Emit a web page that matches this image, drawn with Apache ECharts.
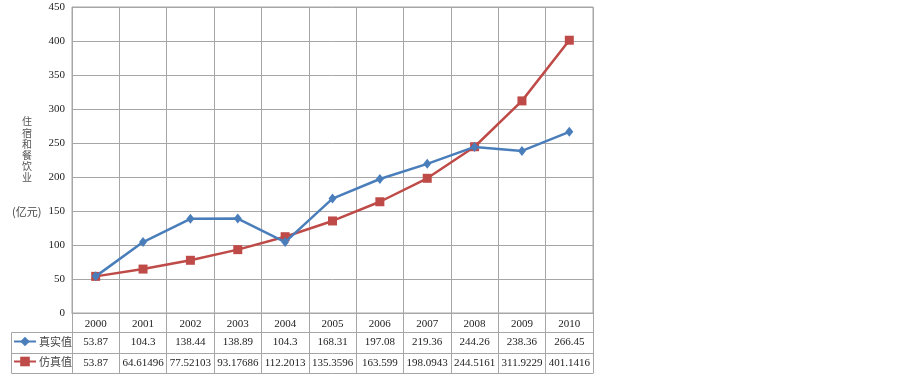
<!DOCTYPE html>
<html>
<head>
<meta charset="utf-8">
<script src="https://cdn.jsdelivr.net/npm/echarts@6/dist/echarts.min.js"></script>
<style>
  html, body { margin: 0; padding: 0; background: #fff; }
  #main { width: 903px; height: 376px; }
</style>
</head>
<body>
<div id="main"></div>
<script>
// 年份
var years = ["2000", "2001", "2002", "2003", "2004", "2005", "2006", "2007", "2008", "2009", "2010"];
// 真实值
var realData = [53.87, 104.3, 138.44, 138.89, 104.3, 168.31, 197.08, 219.36, 244.26, 238.36, 266.45];
// 仿真值 (表格中显示的原始文本)
var simText = ["53.87", "64.61496", "77.52103", "93.17686", "112.2013", "135.3596", "163.599", "198.0943", "244.5161", "311.9229", "401.1416"];
var simData = simText.map(Number);

var gridColor = "#a6a6a6";
var numFont = "'Liberation Serif', 'Times New Roman', serif";
var cjkFont = "'Noto Sans CJK SC', sans-serif";

var chart = echarts.init(document.getElementById("main"));

function tableAxis(offset, texts) {
  return {
    type: "category",
    data: years,
    position: "bottom",
    offset: offset,
    boundaryGap: true,
    axisLine: { show: true, lineStyle: { color: gridColor, width: 1 } },
    axisTick: { show: false },
    splitLine: { show: false },
    axisLabel: {
      show: !!texts,
      interval: 0,
      margin: 5,
      fontFamily: numFont,
      fontSize: 11,
      color: "#222",
      formatter: function (v, i) {
        return texts ? texts[i] : "";
      },
    },
  };
}

chart.setOption({
  animation: false,
  backgroundColor: "#fff",
  color: ["#4A7EBB", "#BE4B48"],
  grid: {
    left: 72,
    right: 310,
    top: 7,
    bottom: 63,
    show: true,
    borderColor: gridColor,
    borderWidth: 1,
  },
  legend: {
    orient: "vertical",
    left: 13,
    top: 336,
    padding: 0,
    itemWidth: 22,
    itemHeight: 12,
    itemGap: 9,
    textStyle: { fontFamily: cjkFont, fontSize: 11, color: "#444", padding: [0, 0, 0, -2] },
    data: ["真实值", "仿真值"],
  },
  xAxis: [
    {
      type: "category",
      data: years,
      position: "bottom",
      boundaryGap: true,
      axisLine: { show: true, lineStyle: { color: gridColor, width: 1 } },
      // 刻度线向下延伸成表格竖线
      axisTick: { show: true, interval: 0, length: 60, lineStyle: { color: gridColor, width: 1 } },
      splitLine: { show: true, interval: 0, lineStyle: { color: gridColor, width: 1 } },
      axisLabel: {
        interval: 0,
        margin: 6,
        fontFamily: numFont,
        fontSize: 11,
        color: "#222",
      },
    },
    tableAxis(19, realData.map(String)),
    tableAxis(40, simText),
    tableAxis(60, null),
  ],
  yAxis: {
    type: "value",
    min: 0,
    max: 450,
    interval: 50,
    axisLine: { show: true, lineStyle: { color: gridColor } },
    axisTick: { show: false },
    splitLine: { lineStyle: { color: gridColor, width: 1 } },
    axisLabel: {
      margin: 7,
      fontFamily: numFont,
      fontSize: 11,
      color: "#222",
    },
  },
  graphic: [
    // 坐标轴标题
    {
      type: "text",
      left: 22,
      top: 116,
      style: {
        text: "住\n宿\n和\n餐\n饮\n业",
        fontFamily: cjkFont,
        fontSize: 10,
        lineHeight: 11.2,
        fill: "#555",
      },
    },
    {
      type: "text",
      left: 12,
      top: 206,
      style: {
        text: "(亿元)",
        fontFamily: cjkFont,
        fontSize: 11,
        fill: "#444",
      },
    },
    // 表格左侧图例栏的边框
    {
      type: "polyline",
      shape: { points: [[72, 332.5], [11.5, 332.5], [11.5, 373.5], [72, 373.5]] },
      style: { stroke: gridColor, lineWidth: 1, fill: null },
    },
    {
      type: "line",
      shape: { x1: 11.5, y1: 353.5, x2: 72, y2: 353.5 },
      style: { stroke: gridColor, lineWidth: 1 },
    },
  ],
  series: [
    {
      name: "真实值",
      type: "line",
      data: realData,
      symbol: "diamond",
      symbolSize: [8, 10],
      lineStyle: { width: 2.5 },
      itemStyle: { color: "#4A7EBB" },
      z: 3,
    },
    {
      name: "仿真值",
      type: "line",
      data: simData,
      symbol: "rect",
      symbolSize: 9,
      lineStyle: { width: 2.5 },
      itemStyle: { color: "#BE4B48" },
      z: 2,
    },
  ],
});
</script>
</body>
</html>
